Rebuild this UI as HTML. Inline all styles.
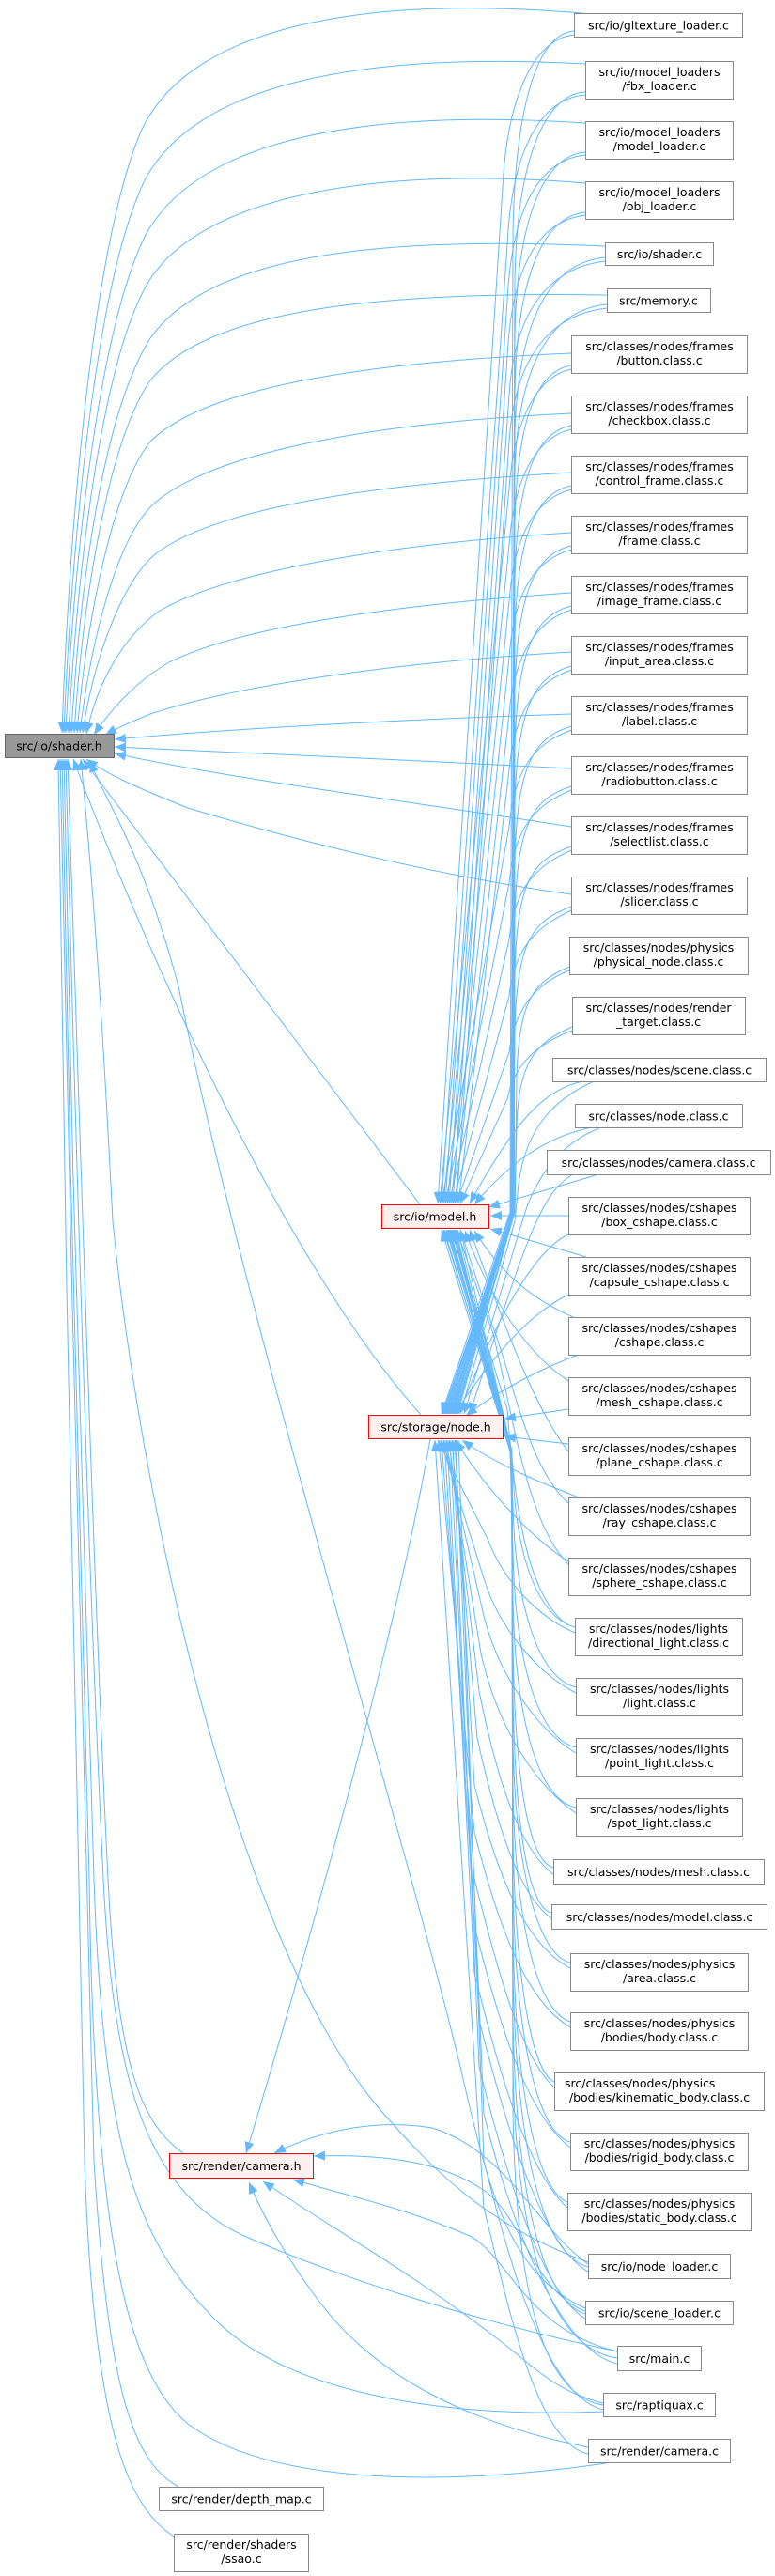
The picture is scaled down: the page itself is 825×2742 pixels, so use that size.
<!DOCTYPE html>
<html><head><meta charset="utf-8"><style>
html,body{margin:0;padding:0;background:#fff;}
svg{display:block;}
text{font-family:"DejaVu Sans","Liberation Sans",sans-serif;font-size:12.5px;fill:#000;text-anchor:middle;}
.e{fill:none;stroke:#63b8ff;stroke-width:1;}
.b{fill:#fff;stroke:#888;stroke-width:1;}
.r{fill:#fff0f0;stroke:#f00;stroke-width:1;}
</style></head><body>
<svg width="825" height="2742" viewBox="0 0 825 2742" xmlns="http://www.w3.org/2000/svg">
<defs><marker id="a" viewBox="0 0 12 10" refX="12" refY="5" markerWidth="12" markerHeight="10" markerUnits="userSpaceOnUse" orient="auto"><path d="M0,0 L12,5 L0,10 z" fill="#63b8ff"/></marker></defs>
<g class="e" marker-end="url(#a)">
<path d="M620,14 C380,-6 200,30 150,140 C95,270 72,600 66,780"/>
<path d="M623,68 C380,55 210,90 155,190 C100,300 75,600 68,780"/>
<path d="M623,131 C380,115 210,150 155,250 C105,350 78,600 70,780"/>
<path d="M623,195 C380,175 210,215 158,300 C110,380 82,600 73,780"/>
<path d="M644,262 C390,250 220,275 160,360 C110,440 85,620 76,780"/>
<path d="M646,314 C400,310 220,330 160,405 C115,470 88,640 79,780"/>
<path d="M608,376 C400,385 220,410 160,470 C120,520 92,660 82,780"/>
<path d="M608,440 C400,450 230,480 165,535 C125,570 97,680 85,780"/>
<path d="M608,503 C400,515 230,540 165,590 C130,620 100,700 88,780"/>
<path d="M608,567 C400,580 240,610 170,650 C135,675 105,720 92,781"/>
<path d="M608,631 C400,645 250,670 180,705 C145,725 118,755 100,782"/>
<path d="M608,694 C420,705 250,730 160,760 C140,768 125,775 112,782"/>
<path d="M608,760 C450,765 250,775 122,787"/>
<path d="M608,818 C450,810 250,800 122,795"/>
<path d="M608,880 C450,855 250,830 122,802"/>
<path d="M608,952 C450,930 300,890 200,860 C150,840 115,825 92,808"/>
<path d="M447,1282 L88,808"/>
<path d="M448,1506 C300,1340 150,1000 78,808"/>
<path d="M195,2292 C150,2260 125,2200 115,2000 C100,1700 85,1200 72,808"/>
<path d="M657,2503 C500,2470 350,2420 260,2380 C150,2330 120,2200 110,2000 C95,1700 80,1200 70,808"/>
<path d="M642,2567 C450,2575 300,2540 230,2470 C150,2390 110,2300 100,2000 C90,1700 75,1200 68,808"/>
<path d="M645,2622 C450,2650 280,2640 200,2580 C140,2530 100,2400 95,2000 C88,1700 72,1200 66,808"/>
<path d="M190,2647 C140,2620 115,2540 100,2300 C90,2000 75,1300 64,808"/>
<path d="M185,2700 C140,2670 100,2600 90,2300 C80,2000 70,1300 62,808"/>
<path d="M626,2408 C520,2370 460,2310 400,2240 C250,2060 150,1600 120,1300 C110,1100 100,950 86,808"/>
<path d="M623,2457 C540,2420 520,2330 490,2200 C430,1950 260,1400 190,1050 C150,900 110,850 96,810"/>
<path d="M458,1532 C420,1750 320,2100 262,2292"/>
<path d="M626,2410 C570,2370 540,2290 460,2265 C400,2255 340,2268 292,2292"/>
<path d="M623,2460 C570,2440 560,2370 520,2335 C470,2298 400,2293 334,2295"/>
<path d="M657,2503 C560,2480 540,2400 500,2380 C430,2350 380,2340 312,2320"/>
<path d="M642,2558 C590,2545 570,2520 530,2490 C440,2420 350,2370 280,2322"/>
<path d="M626,2605 C500,2580 400,2530 340,2450 C310,2410 285,2370 265,2323"/>
<path d="M612,37 C570,40 540,100 535,200 L466,1281"/>
<path d="M623,101 C575,105 545,160 540,260 L470,1281"/>
<path d="M623,165 C575,170 545,220 540,320 L474,1281"/>
<path d="M623,229 C575,235 545,280 540,380 L478,1281"/>
<path d="M644,278 C585,285 548,330 542,420 L482,1281"/>
<path d="M646,328 C585,335 548,380 542,470 L486,1281"/>
<path d="M608,393 C575,400 548,440 542,520 L468,1281"/>
<path d="M608,457 C575,465 548,500 542,580 L472,1281"/>
<path d="M608,521 C575,530 548,560 542,640 L476,1281"/>
<path d="M608,585 C575,595 548,620 542,700 L480,1281"/>
<path d="M608,649 C575,660 548,690 542,760 L484,1281"/>
<path d="M608,713 C575,725 548,750 542,820 L488,1281"/>
<path d="M608,777 C575,790 548,810 542,880 L470,1281"/>
<path d="M608,841 C575,855 548,875 542,940 L474,1281"/>
<path d="M608,905 C575,920 548,940 542,1000 L478,1281"/>
<path d="M608,969 C575,985 548,1005 542,1060 L482,1281"/>
<path d="M606,1033 C575,1045 548,1070 542,1120 L486,1281"/>
<path d="M609,1097 C575,1110 548,1130 540,1170 L490,1281"/>
<path d="M620,1151 C580,1160 550,1190 500,1281"/>
<path d="M630,1200 C580,1210 540,1240 505,1282"/>
<path d="M637,1250 L520,1285"/>
<path d="M605,1294 L522,1294"/>
<path d="M624,1338 L522,1308"/>
<path d="M610,1402 C560,1380 530,1350 505,1310"/>
<path d="M605,1470 C560,1440 520,1380 495,1310"/>
<path d="M612,33 C570,35 548,120 546,250 L543,1290 L470,1505"/>
<path d="M623,98 C580,100 550,170 548,300 L544,1290 L473,1505"/>
<path d="M623,162 C580,165 550,230 548,360 L544,1290 L476,1505"/>
<path d="M623,226 C580,230 550,290 548,420 L545,1290 L479,1505"/>
<path d="M644,274 C585,280 552,340 548,460 L545,1290 L482,1505"/>
<path d="M646,324 C585,330 552,390 548,500 L545,1290 L485,1505"/>
<path d="M608,389 C570,395 550,450 548,560 L546,1290 L471,1505"/>
<path d="M608,453 C570,460 550,510 548,620 L546,1290 L474,1505"/>
<path d="M608,517 C570,525 550,570 548,680 L546,1290 L477,1505"/>
<path d="M608,581 C570,590 550,630 548,740 L546,1290 L480,1505"/>
<path d="M608,645 C570,655 550,690 548,800 L546,1290 L483,1505"/>
<path d="M608,709 C570,720 550,750 548,860 L547,1290 L486,1505"/>
<path d="M608,773 C570,785 550,810 548,920 L547,1290 L472,1505"/>
<path d="M608,837 C570,850 550,870 548,980 L547,1290 L475,1505"/>
<path d="M608,901 C570,915 550,930 548,1040 L547,1290 L478,1505"/>
<path d="M608,965 C570,980 550,995 548,1100 L547,1290 L481,1505"/>
<path d="M606,1029 C570,1045 552,1060 550,1150 L548,1290 L484,1505"/>
<path d="M609,1093 C570,1110 552,1130 550,1200 L548,1290 L487,1505"/>
<path d="M632,1151 C590,1170 560,1200 552,1260 L548,1300 L490,1505"/>
<path d="M640,1200 C600,1215 570,1250 556,1300 L494,1505"/>
<path d="M610,1250 C575,1270 560,1320 500,1505"/>
<path d="M605,1314 C570,1330 530,1400 488,1505"/>
<path d="M605,1378 C560,1400 520,1450 484,1505"/>
<path d="M616,1442 C580,1455 530,1480 496,1507"/>
<path d="M605,1500 L537,1510"/>
<path d="M605,1537 L537,1529"/>
<path d="M616,1594 C580,1580 530,1560 492,1533"/>
<path d="M605,1662 C570,1640 520,1590 485,1533"/>
<path d="M605,1545 C570,1500 540,1420 500,1309"/>
<path d="M605,1600 C560,1560 545,1460 520,1400 L490,1309"/>
<path d="M605,1665 C560,1620 545,1500 525,1420 L486,1309"/>
<path d="M605,1730 C560,1700 548,1600 540,1500 L480,1309"/>
<path d="M612,1732 C570,1720 548,1650 546,1560 L543,1545 L470,1309"/>
<path d="M613,1796 C570,1785 548,1700 546,1600 L543,1545 L473,1309"/>
<path d="M613,1860 C570,1850 548,1760 546,1650 L543,1545 L476,1309"/>
<path d="M613,1924 C570,1915 548,1820 546,1700 L544,1545 L479,1309"/>
<path d="M589,1988 C560,1980 548,1880 546,1750 L544,1545 L482,1309"/>
<path d="M587,2036 C560,2030 548,1930 546,1800 L544,1545 L485,1309"/>
<path d="M607,2089 C570,2080 548,1980 546,1850 L545,1545 L472,1309"/>
<path d="M607,2152 C570,2140 548,2040 546,1900 L545,1545 L475,1309"/>
<path d="M590,2216 C565,2205 548,2100 546,1950 L545,1545 L478,1309"/>
<path d="M607,2280 C570,2270 548,2160 546,2000 L545,1545 L481,1309"/>
<path d="M604,2344 C570,2330 548,2220 546,2050 L545,1545 L484,1309"/>
<path d="M626,2413 C580,2400 550,2300 546,2100 L545,1545 L487,1309"/>
<path d="M623,2463 C580,2450 550,2350 546,2150 L545,1545 L490,1309"/>
<path d="M657,2510 C590,2500 550,2400 546,2200 L545,1545 L477,1309"/>
<path d="M642,2560 C580,2550 550,2450 546,2250 L545,1545 L483,1309"/>
<path d="M612,1738 C570,1720 535,1680 520,1640 L466,1533"/>
<path d="M613,1802 C570,1780 530,1730 515,1680 L469,1533"/>
<path d="M613,1866 C570,1840 530,1780 515,1720 L472,1533"/>
<path d="M613,1930 C570,1900 530,1840 512,1760 L475,1533"/>
<path d="M589,1995 C555,1970 530,1900 510,1800 L478,1533"/>
<path d="M587,2042 C555,2020 530,1950 508,1850 L481,1533"/>
<path d="M607,2095 C560,2070 530,2000 505,1900 L484,1533"/>
<path d="M607,2158 C560,2130 530,2050 505,1950 L467,1533"/>
<path d="M590,2222 C555,2190 530,2100 505,2000 L470,1533"/>
<path d="M607,2286 C560,2250 530,2150 505,2050 L473,1533"/>
<path d="M604,2350 C560,2310 530,2200 505,2100 L476,1533"/>
<path d="M626,2418 C575,2390 535,2250 510,2150 L479,1533"/>
<path d="M623,2468 C575,2440 535,2300 510,2200 L482,1533"/>
<path d="M657,2516 C590,2500 540,2350 515,2250 L485,1533"/>
<path d="M642,2565 C580,2550 540,2400 515,2300 L488,1533"/>
<path d="M626,2612 C570,2600 540,2450 515,2350 L463,1533"/>
</g>
<g>
<rect class="b" x="5.5" y="781.5" width="116" height="25" style="fill:#999;stroke:#666"/><text x="63" y="798.5">src/io/shader.h</text>
<rect class="r" x="406.5" y="1282.5" width="114" height="25"/><text x="463" y="1299.5">src/io/model.h</text>
<rect class="r" x="392.5" y="1506.5" width="143" height="25"/><text x="464" y="1523.5">src/storage/node.h</text>
<rect class="r" x="180.5" y="2292.5" width="153" height="26"/><text x="257" y="2310">src/render/camera.h</text>
<rect class="b" x="169.5" y="2647.5" width="175" height="25"/><text x="257" y="2664.5">src/render/depth_map.c</text>
<rect class="b" x="185.5" y="2697.5" width="143" height="40"/><text x="257" y="2713">src/render/shaders</text><text x="257" y="2728">/ssao.c</text>
<rect class="b" x="611.5" y="14.5" width="179" height="25"/><text x="701" y="31.5">src/io/gltexture_loader.c</text>
<rect class="b" x="623.5" y="65.5" width="157" height="40"/><text x="702" y="81">src/io/model_loaders</text><text x="702" y="96">/fbx_loader.c</text>
<rect class="b" x="623.5" y="129.5" width="157" height="40"/><text x="702" y="145">src/io/model_loaders</text><text x="702" y="160">/model_loader.c</text>
<rect class="b" x="623.5" y="193.5" width="157" height="40"/><text x="702" y="209">src/io/model_loaders</text><text x="702" y="224">/obj_loader.c</text>
<rect class="b" x="644.5" y="258.5" width="115" height="24"/><text x="702" y="275">src/io/shader.c</text>
<rect class="b" x="646.5" y="307.5" width="110" height="25"/><text x="701" y="324.5">src/memory.c</text>
<rect class="b" x="608.5" y="357.5" width="187" height="40"/><text x="702" y="373">src/classes/nodes/frames</text><text x="702" y="388">/button.class.c</text>
<rect class="b" x="608.5" y="421.5" width="187" height="40"/><text x="702" y="437">src/classes/nodes/frames</text><text x="702" y="452">/checkbox.class.c</text>
<rect class="b" x="608.5" y="485.5" width="187" height="40"/><text x="702" y="501">src/classes/nodes/frames</text><text x="702" y="516">/control_frame.class.c</text>
<rect class="b" x="608.5" y="549.5" width="187" height="40"/><text x="702" y="565">src/classes/nodes/frames</text><text x="702" y="580">/frame.class.c</text>
<rect class="b" x="608.5" y="613.5" width="187" height="40"/><text x="702" y="629">src/classes/nodes/frames</text><text x="702" y="644">/image_frame.class.c</text>
<rect class="b" x="608.5" y="677.5" width="187" height="40"/><text x="702" y="693">src/classes/nodes/frames</text><text x="702" y="708">/input_area.class.c</text>
<rect class="b" x="608.5" y="741.5" width="187" height="40"/><text x="702" y="757">src/classes/nodes/frames</text><text x="702" y="772">/label.class.c</text>
<rect class="b" x="608.5" y="805.5" width="187" height="40"/><text x="702" y="821">src/classes/nodes/frames</text><text x="702" y="836">/radiobutton.class.c</text>
<rect class="b" x="608.5" y="869.5" width="187" height="40"/><text x="702" y="885">src/classes/nodes/frames</text><text x="702" y="900">/selectlist.class.c</text>
<rect class="b" x="608.5" y="933.5" width="187" height="40"/><text x="702" y="949">src/classes/nodes/frames</text><text x="702" y="964">/slider.class.c</text>
<rect class="b" x="606.5" y="997.5" width="190" height="40"/><text x="701" y="1013">src/classes/nodes/physics</text><text x="701" y="1028">/physical_node.class.c</text>
<rect class="b" x="609.5" y="1061.5" width="184" height="40"/><text x="701" y="1077">src/classes/nodes/render</text><text x="701" y="1092">_target.class.c</text>
<rect class="b" x="588.5" y="1126.5" width="227" height="25"/><text x="702" y="1143.5">src/classes/nodes/scene.class.c</text>
<rect class="b" x="612.5" y="1175.5" width="178" height="25"/><text x="701" y="1192.5">src/classes/node.class.c</text>
<rect class="b" x="582.5" y="1224.5" width="238" height="26"/><text x="701" y="1242">src/classes/nodes/camera.class.c</text>
<rect class="b" x="605.5" y="1274.5" width="193" height="40"/><text x="702" y="1290">src/classes/nodes/cshapes</text><text x="702" y="1305">/box_cshape.class.c</text>
<rect class="b" x="605.5" y="1338.5" width="193" height="40"/><text x="702" y="1354">src/classes/nodes/cshapes</text><text x="702" y="1369">/capsule_cshape.class.c</text>
<rect class="b" x="605.5" y="1402.5" width="193" height="40"/><text x="702" y="1418">src/classes/nodes/cshapes</text><text x="702" y="1433">/cshape.class.c</text>
<rect class="b" x="605.5" y="1466.5" width="193" height="40"/><text x="702" y="1482">src/classes/nodes/cshapes</text><text x="702" y="1497">/mesh_cshape.class.c</text>
<rect class="b" x="605.5" y="1530.5" width="193" height="40"/><text x="702" y="1546">src/classes/nodes/cshapes</text><text x="702" y="1561">/plane_cshape.class.c</text>
<rect class="b" x="605.5" y="1594.5" width="193" height="40"/><text x="702" y="1610">src/classes/nodes/cshapes</text><text x="702" y="1625">/ray_cshape.class.c</text>
<rect class="b" x="605.5" y="1658.5" width="193" height="40"/><text x="702" y="1674">src/classes/nodes/cshapes</text><text x="702" y="1689">/sphere_cshape.class.c</text>
<rect class="b" x="612.5" y="1722.5" width="178" height="40"/><text x="701" y="1738">src/classes/nodes/lights</text><text x="701" y="1753">/directional_light.class.c</text>
<rect class="b" x="613.5" y="1786.5" width="177" height="40"/><text x="702" y="1802">src/classes/nodes/lights</text><text x="702" y="1817">/light.class.c</text>
<rect class="b" x="613.5" y="1850.5" width="177" height="40"/><text x="702" y="1866">src/classes/nodes/lights</text><text x="702" y="1881">/point_light.class.c</text>
<rect class="b" x="613.5" y="1914.5" width="177" height="40"/><text x="702" y="1930">src/classes/nodes/lights</text><text x="702" y="1945">/spot_light.class.c</text>
<rect class="b" x="589.5" y="1979.5" width="224" height="26"/><text x="701" y="1997">src/classes/nodes/mesh.class.c</text>
<rect class="b" x="587.5" y="2027.5" width="229" height="26"/><text x="702" y="2045">src/classes/nodes/model.class.c</text>
<rect class="b" x="607.5" y="2079.5" width="189" height="40"/><text x="702" y="2095">src/classes/nodes/physics</text><text x="702" y="2110">/area.class.c</text>
<rect class="b" x="607.5" y="2142.5" width="189" height="40"/><text x="702" y="2158">src/classes/nodes/physics</text><text x="702" y="2173">/bodies/body.class.c</text>
<rect class="b" x="590.5" y="2206.5" width="223" height="40"/><text x="601" y="2222" style="text-anchor:start">src/classes/nodes/physics</text><text x="702" y="2237">/bodies/kinematic_body.class.c</text>
<rect class="b" x="607.5" y="2270.5" width="189" height="40"/><text x="702" y="2286">src/classes/nodes/physics</text><text x="702" y="2301">/bodies/rigid_body.class.c</text>
<rect class="b" x="604.5" y="2334.5" width="195" height="40"/><text x="702" y="2350">src/classes/nodes/physics</text><text x="702" y="2365">/bodies/static_body.class.c</text>
<rect class="b" x="626.5" y="2399.5" width="151" height="26"/><text x="702" y="2417">src/io/node_loader.c</text>
<rect class="b" x="623.5" y="2449.5" width="157" height="25"/><text x="702" y="2466.5">src/io/scene_loader.c</text>
<rect class="b" x="657.5" y="2497.5" width="89" height="26"/><text x="702" y="2515">src/main.c</text>
<rect class="b" x="642.5" y="2547.5" width="119" height="25"/><text x="702" y="2564.5">src/raptiquax.c</text>
<rect class="b" x="626.5" y="2596.5" width="151" height="25"/><text x="702" y="2613.5">src/render/camera.c</text>
</g>
</svg>
</body></html>
